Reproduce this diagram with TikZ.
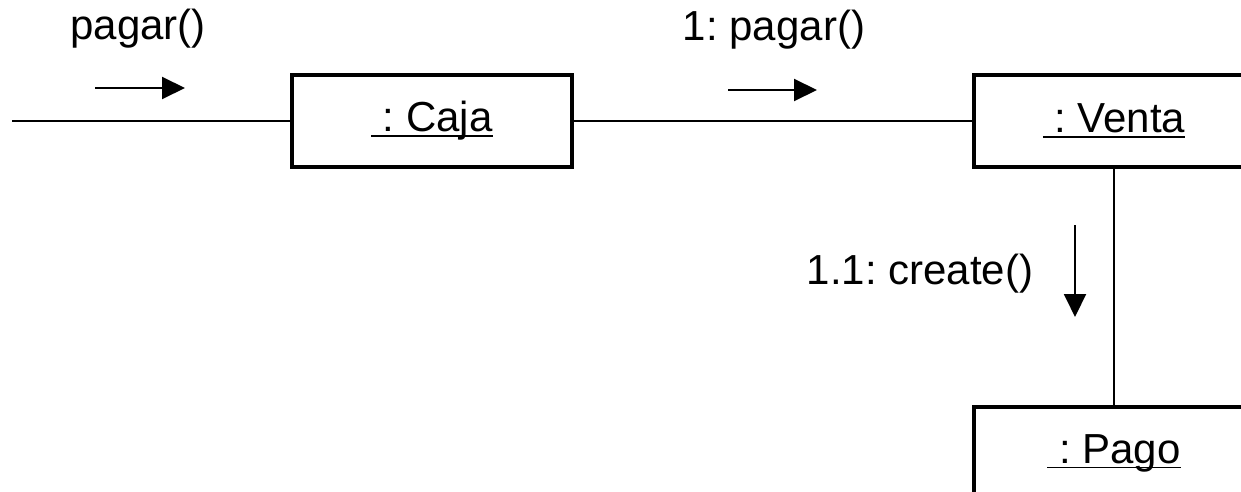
\documentclass[tikz,border=0pt]{standalone}
\usepackage{fontspec}
\setmainfont{Liberation Sans}
\usetikzlibrary{arrows.meta}
% underlined object name, rule drawn through the descenders
\newcommand\objname[1]{\setbox0\hbox{#1}\rlap{\rule[-2.6pt]{\wd0}{0.8pt}}\box0}

\begin{document}
\frenchspacing
\begin{tikzpicture}[x=0.5pt,y=-0.5pt,font=\fontsize{21}{25}\selectfont,
  obj/.style={draw,line width=1.6pt,minimum width=140pt,minimum height=46pt,inner sep=0pt},
  link/.style={line width=1pt},
  msg/.style={line width=1pt,-{Triangle[length=11.5pt,width=11pt]}}]
\clip (0,0) rectangle (1241,492);
\node[obj] (caja) at (432,121) {\objname{\ : Caja}};
\node[obj] (venta) at (1114,121) {\objname{\ : Venta}};
\node[obj] (pago) at (1114,453) {\objname{\ : Pago}};
\coordinate (start) at (12,121);
\draw[link] (start) -- (caja);
\draw[link] (caja) -- (venta);
\draw[link] (venta) -- (pago);
% messages
\foreach \xa/\ya/\xb/\yb in {95/88/185/88,728/90/817/90,1075/225/1075/317}
  {\draw[msg] (\xa,\ya) -- (\xb,\yb);}
\node[anchor=base] (m1) at (138,40) {pagar()};
\node[anchor=base] (m2) at (774,41) {1: pagar()};
\node[anchor=base] (m3) at (920,284) {1.1: create()};
\end{tikzpicture}
\end{document}
